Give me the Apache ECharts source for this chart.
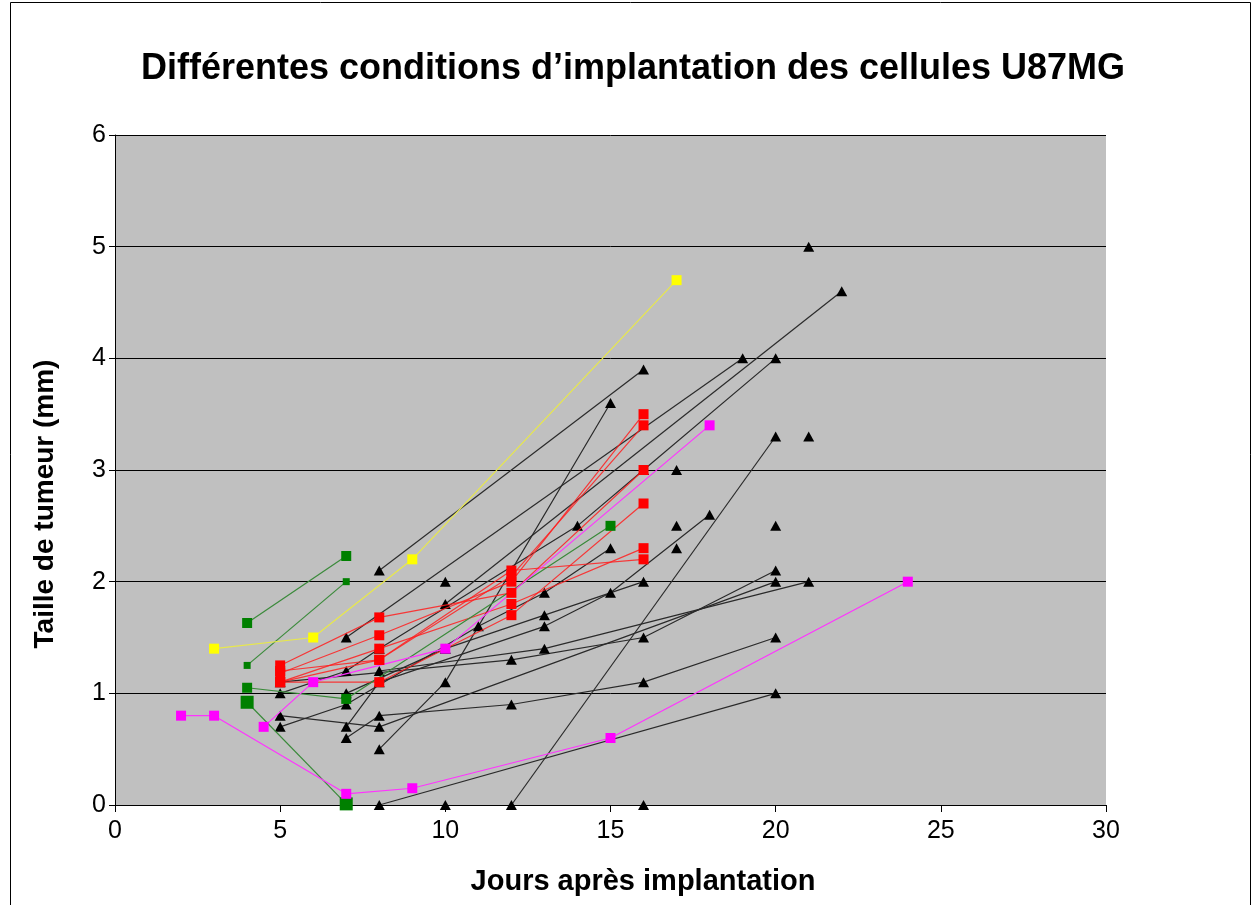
<!DOCTYPE html>
<html>
<head>
<meta charset="utf-8">
<script src="https://cdn.jsdelivr.net/npm/echarts@6/dist/echarts.min.js"></script>
<style>
  html, body { margin: 0; padding: 0; background: #ffffff; }
  #chart { width: 1258px; height: 905px; }
</style>
</head>
<body>
<div id="chart"></div>
<script>
// Axis ticks
const xTicks = [0, 5, 10, 15, 20, 25, 30];
const yTicks = [0, 1, 2, 3, 4, 5, 6];

// Black group: one array of [day, size] per mouse
const miceBlack = [
  [[8, 2.1], [16, 3.9]],
  [[8, 0.5], [10, 1.1], [15, 3.6]],
  [[12, 0], [20, 3.3]],
  [[8, 0], [20, 1.0]],
  [[7, 0.6], [8, 0.8], [12, 0.9], [16, 1.1], [20, 1.5]],
  [[5, 0.8], [8, 0.7], [20, 2.0]],
  [[5, 1.1], [12, 1.3], [16, 1.5], [20, 2.1]],
  [[5, 1.0], [7, 1.2], [8, 1.4], [14, 2.5], [16, 3.0], [20, 4.0]],
  [[10, 1.8], [22, 4.6]],
  [[7, 1.5], [19, 4.0]],
  [[5, 0.7], [7, 0.9], [11, 1.6], [13, 1.9], [15, 2.3]],
  [[7, 0.7], [8, 1.1], [13, 1.6], [15, 1.9], [18, 2.6]],
  [[8, 1.2], [13, 1.4], [21, 2.0]],
  [[7, 1.0], [10, 1.4], [13, 1.7], [16, 2.0]]
];
// Black group: single measurements
const singlesBlack = [[10, 2.0], [10, 0], [16, 0], [17, 3.0], [17, 2.5], [17, 2.3], [20, 2.5], [21, 3.3], [21, 5.0]];

// Red group
const miceRed = [
  [[5, 1.25], [8, 1.68], [12, 1.9], [16, 3.0]],
  [[5, 1.18], [8, 1.52], [12, 2.0], [16, 3.5]],
  [[5, 1.1], [8, 1.3], [12, 2.1], [16, 2.2]],
  [[5, 1.1], [8, 1.1], [12, 1.7], [16, 2.7]],
  [[5, 1.1], [8, 1.4], [12, 1.8], [16, 2.3]],
  [[5, 1.2], [8, 1.3], [12, 2.05], [16, 3.4]]
];

// Green group
const miceGreen = [
  [[4, 1.63], [7, 2.23]],
  [[4, 1.25], [7, 2.0]],
  [[4, 1.05], [7, 0.95], [15, 2.5]],
  [[4, 0.92], [7, 0.01]]
];

// Yellow group
const miceYellow = [
  [[3, 1.4], [6, 1.5], [9, 2.2], [17, 4.7]]
];

// Magenta group
const miceMagenta = [
  [[2, 0.8], [3, 0.8], [7, 0.1], [9, 0.15], [15, 0.6], [24, 2.0]],
  [[4.5, 0.7], [6, 1.1], [10, 1.4], [18, 3.4]]
];

const greenMarkerSizes = [10, 7, 10, 13];
const FONT = '"Liberation Sans", Arial, sans-serif';

function lineSeries(data, symbol, size, markerColor, lineColor, z) {
  return {
    type: 'line',
    data: data,
    symbol: symbol,
    symbolSize: size,
    showAllSymbol: true,
    itemStyle: { color: markerColor, borderWidth: 0, opacity: 1 },
    lineStyle: { color: lineColor, width: 1.2 },
    emphasis: { disabled: true },
    z: z,
    animation: false
  };
}

const series = [];
miceBlack.forEach(d => series.push(lineSeries(d, 'triangle', [11, 10], '#000000', '#2a2a2a', 2)));
singlesBlack.forEach(p => series.push(lineSeries([p], 'triangle', [11, 10], '#000000', '#2a2a2a', 2)));
miceRed.forEach(d => series.push(lineSeries(d, 'rect', 10, '#ff0000', 'rgba(255,30,30,0.85)', 3)));
miceGreen.forEach((d, i) => series.push(lineSeries(d, 'rect', greenMarkerSizes[i], '#008000', '#3a8a3a', 3)));
miceYellow.forEach(d => series.push(lineSeries(d, 'rect', 10, '#ffff00', '#e8e84a', 3)));
miceMagenta.forEach(d => series.push(lineSeries(d, 'rect', 10, '#ff00ff', '#ff33ff', 3)));

const chart = echarts.init(document.getElementById('chart'), null, { renderer: 'canvas' });
chart.setOption({
  animation: false,
  backgroundColor: '#ffffff',
  title: {
    text: 'Différentes conditions d’implantation des cellules U87MG',
    left: 628,
    top: 46,
    textAlign: 'center',
    textStyle: { fontFamily: FONT, fontSize: 36, fontWeight: 'bold', color: '#000' }
  },
  grid: {
    left: 115, right: 152, top: 135, bottom: 100,
    show: true, backgroundColor: '#c0c0c0', borderWidth: 0
  },
  xAxis: {
    type: 'value',
    min: xTicks[0], max: xTicks[xTicks.length - 1], interval: xTicks[1] - xTicks[0],
    axisLine: { show: true, lineStyle: { color: '#000', width: 1 } },
    axisTick: { show: true, inside: false, length: 7, lineStyle: { color: '#000' } },
    axisLabel: { fontFamily: FONT, fontSize: 25, color: '#000', margin: 14 },
    splitLine: { show: false }
  },
  yAxis: {
    type: 'value',
    min: yTicks[0], max: yTicks[yTicks.length - 1], interval: yTicks[1] - yTicks[0],
    axisLine: { show: true, lineStyle: { color: '#000', width: 1 } },
    axisTick: { show: true, inside: false, length: 6, lineStyle: { color: '#000' } },
    axisLabel: { fontFamily: FONT, fontSize: 25, color: '#000', margin: 9 },
    splitLine: { show: true, lineStyle: { color: '#000', width: 1 } }
  },
  graphic: [
    {
      type: 'rect', silent: true, z: -1,
      shape: { x: 10.5, y: 2.5, width: 1240, height: 920 },
      style: { fill: 'none', stroke: '#000', lineWidth: 1 }
    },
    {
      type: 'text', silent: true,
      x: 643, y: 882,
      style: {
        text: 'Jours après implantation', fill: '#000',
        font: 'bold 29px ' + FONT,
        textAlign: 'center', textVerticalAlign: 'middle'
      }
    },
    {
      type: 'text', silent: true,
      x: 45, y: 504, rotation: Math.PI / 2,
      style: {
        text: 'Taille de tumeur (mm)', fill: '#000',
        font: 'bold 28px ' + FONT,
        textAlign: 'center', textVerticalAlign: 'middle'
      }
    }
  ],
  series: series
});
</script>
</body>
</html>
